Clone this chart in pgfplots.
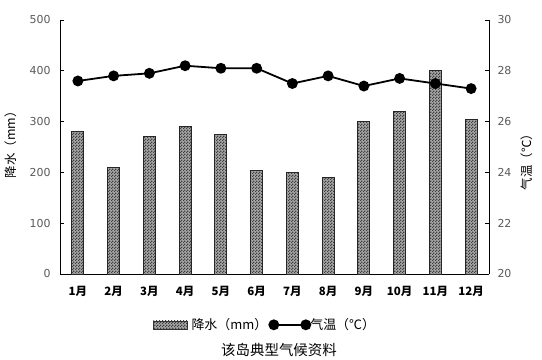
\documentclass[border=0pt]{standalone}
\usepackage{pgfplots}
\pgfplotsset{compat=1.18}
\usetikzlibrary{patterns}
\usepackage{fontspec}
\setmainfont{DejaVu Sans}
\newfontfamily\cjk{Noto Sans CJK SC}
\definecolor{tickgray}{HTML}{595959}
\pgfdeclarepatternformonly{finecheck}{\pgfqpoint{0bp}{0bp}}{\pgfqpoint{3bp}{3bp}}{\pgfqpoint{3bp}{3bp}}{%
  \pgfpathrectangle{\pgfqpoint{0bp}{0bp}}{\pgfqpoint{1.5bp}{1.5bp}}%
  \pgfpathrectangle{\pgfqpoint{1.5bp}{1.5bp}}{\pgfqpoint{1.5bp}{1.5bp}}%
  \pgfusepath{fill}}
\pgfplotsset{
  dotline legend/.style={legend image code/.code={\draw[##1, mark repeat=2, mark phase=1] plot coordinates {(4bp,0bp) (20bp,0bp) (36bp,0bp)};}},
  barbox legend/.style={legend image code/.code={\draw[draw=black!80, line width=0.5bp, fill=black!35, postaction={pattern=finecheck, pattern color=black!75}] (-4bp,-4bp) rectangle (30bp,4bp);}},
}
\begin{document}
\begin{tikzpicture}
\useasboundingbox (-60bp,-86bp) rectangle (482bp,274bp);
\begin{axis}[
  at={(0,0)}, anchor=south west,
  scale only axis, width=429bp, height=254bp,
  xmin=0, xmax=12, ymin=0, ymax=500,
  axis x line*=bottom, axis y line*=left,
  axis line style={-, black, line width=0.8bp},
  xtick={0.5,1.5,2.5,3.5,4.5,5.5,6.5,7.5,8.5,9.5,10.5,11.5},
  xticklabels={1月,2月,3月,4月,5月,6月,7月,8月,9月,10月,11月,12月},
  xticklabel style={font=\cjk\bfseries\fontsize{11.5}{12}\selectfont, text=black},
  major x tick style={draw=none},
  ytick={0,100,...,500},
  tick align=inside, major tick length=4bp,
  major y tick style={black, line width=0.8bp},
  yticklabel style={font=\fontsize{11}{12}\selectfont, text=tickgray},
  /pgf/number format/assume math mode=true,
  xticklabel shift=9bp, yticklabel shift=6bp,
  ylabel={\cjk 降水（mm）},
  ylabel style={font=\fontsize{12.5}{13}\selectfont, at={(axis description cs:-0.114,0.52)}, anchor=center},
]
\addplot[ybar, bar width=12bp, draw=black!85, line width=0.8bp, fill=black!35,
  postaction={pattern=finecheck, pattern color=black!75}] table {
x y
0.5 280
1.5 210
2.5 270
3.5 290
4.5 275
5.5 204
6.5 200
7.5 190
8.5 300
9.5 320
10.5 400
11.5 304
};
\end{axis}
\begin{axis}[
  at={(0,0)}, anchor=south west,
  scale only axis, width=429bp, height=254bp,
  xmin=0, xmax=12, ymin=20, ymax=30,
  axis x line=none, axis y line*=right,
  axis line style={-, black, line width=0.8bp},
  ytick={20,22,...,30},
  tick align=inside, major tick length=4bp,
  major y tick style={black, line width=0.8bp},
  yticklabel style={font=\fontsize{11}{12}\selectfont, text=tickgray},
  /pgf/number format/assume math mode=true,
  yticklabel shift=5bp,
  ylabel={\cjk 气温（℃）},
  ylabel style={font=\fontsize{12.5}{13}\selectfont, at={(axis description cs:1.089,0.453)}, anchor=center},
  legend style={at={(0.478,-0.2)}, anchor=center, draw=none, fill=none,
    font=\cjk\fontsize{13}{14}\selectfont, legend columns=2,
    /tikz/every odd column/.append style={column sep=2bp}},
]
\addlegendimage{barbox legend}
\addlegendentry{降水（mm）}
\addplot[black, line width=1.8bp, mark=*, mark size=4.5bp, dotline legend] table {
x y
0.5 27.6
1.5 27.8
2.5 27.9
3.5 28.2
4.5 28.1
5.5 28.1
6.5 27.5
7.5 27.8
8.5 27.4
9.5 27.7
10.5 27.5
11.5 27.3
};
\addlegendentry{\hspace{-4bp}气温（℃）}
\end{axis}
\node[font=\cjk\fontsize{14.5}{15}\selectfont] at (219bp,-76bp) {该岛典型气候资料};
\end{tikzpicture}
\end{document}
